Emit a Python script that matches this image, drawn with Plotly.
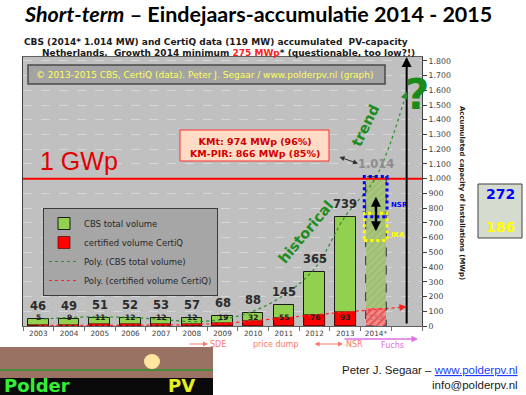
import plotly.graph_objects as go

# ---------------- data ----------------
years = ["2003", "2004", "2005", "2006", "2007", "2008", "2009", "2010",
         "2011", "2012", "2013", "2014*"]
cbs_total = [46, 49, 51, 52, 53, 57, 68, 88, 145, 365, 739, 1014]
certiq = [5, 9, 11, 12, 12, 12, 19, 32, 55, 76, 93, 119]
# polynomial trend lines (2003 .. 2015)
trend_cbs = [45, 58, 62, 58, 45, 30, 45, 100, 210, 390, 745, 1010, 1590]
trend_certiq = [5, 4, 4, 5, 6, 10, 18, 35, 55, 75, 95, 112, 130]
nsr_mw = 272
ika_mw = 186
ika_base = 580
y_ticks = list(range(0, 1801, 100))

FONT = "DejaVu Sans"
L, R, T, B = 23, 422, 57, 326   # plot area in pixels
YMAX = 1826


def px(x):
    return (x - L) / (R - L)


def py(y):
    return (B - y) / (B - T)


def fmt(v):
    return f"{v:,}".replace(",", ".")


n = len(years)
xs = list(range(n))
xs_tr = list(range(len(trend_cbs)))
BW = 0.67

fig = go.Figure()

# green bars
fig.add_trace(go.Bar(
    x=xs[:-1], y=cbs_total[:-1], width=BW, name="CBS total volume",
    marker=dict(color="#92d050", line=dict(color="#1a1a1a", width=1)),
    legendrank=1))
fig.add_trace(go.Bar(
    x=xs[-1:], y=cbs_total[-1:], width=BW, showlegend=False,
    marker=dict(color="#a8c47e", line=dict(color="#a8c47e", width=0),
                pattern=dict(shape="/", fgcolor="#8aae5a", bgcolor="#a8c47e",
                             size=5, solidity=0.25))))
# red bars
fig.add_trace(go.Bar(
    x=xs[:-1], y=certiq[:-1], width=BW, name="certified volume CertiQ",
    marker=dict(color="#ff0000", line=dict(color="#3a0000", width=0.6)),
    legendrank=2))
fig.add_trace(go.Bar(
    x=xs[-1:], y=certiq[-1:], width=BW, showlegend=False,
    marker=dict(color="#f08080", line=dict(width=0),
                pattern=dict(shape="/", fgcolor="#e00000", bgcolor="#f28a8a",
                             size=5, solidity=0.3))))
# trend lines
fig.add_trace(go.Scatter(
    x=xs_tr, y=trend_cbs, mode="lines", name="Poly. (CBS total volume)",
    line=dict(color="#2e8b2e", width=1.2, dash="dot", shape="spline"),
    legendrank=3))
fig.add_trace(go.Scatter(
    x=xs_tr, y=trend_certiq, mode="lines", name="Poly. (certified volume CertiQ)",
    line=dict(color="#ff2020", width=1.2, dash="dot", shape="spline"),
    legendrank=4))

shapes = []
ann = []


def text(x, y, s, size, color, bold=False, xanchor="center", yanchor="middle",
         angle=0, family=FONT, xref="paper", yref="paper", yshift=0):
    ann.append(dict(x=x, y=y, xref=xref, yref=yref, text=s, showarrow=False,
                    xanchor=xanchor, yanchor=yanchor, textangle=angle, yshift=yshift,
                    font=dict(family=family, size=size, color=color,
                              weight="bold" if bold else "normal")))


# value labels above green bars
for i, v in enumerate(cbs_total):
    text(i, v, fmt(v), 11.5, "#2b2b2b" if i < n - 1 else "#8c8c8c", bold=True,
         yanchor="bottom", xref="x", yref="y", yshift=4)

# labels of certiq values
for i, v in enumerate(certiq):
    text(i, 60, str(v), 7.5, "#1f1f1f" if i < n - 1 else "#d86a6a", bold=True,
         xref="x", yref="y")

# 2014 dashed outline
shapes.append(dict(type="rect", xref="x", yref="y", x0=xs[-1] - BW / 2,
                   x1=xs[-1] + BW / 2, y0=0, y1=cbs_total[-1],
                   line=dict(color="#303030", width=1, dash="dash")))

# 1 GWp line
shapes.append(dict(type="line", xref="paper", yref="y", x0=0, x1=1, y0=1000, y1=1000,
                   line=dict(color="#ff0000", width=2)))
text(px(79), py(161), "1 GWp", 25, "#e00000", family="Liberation Sans")

# NSR / IKA dotted boxes
top14 = cbs_total[-1]
shapes.append(dict(type="rect", xref="x", yref="y", x0=xs[-1] - 0.38, x1=xs[-1] + 0.36,
                   y0=top14 - nsr_mw, y1=top14, line=dict(color="#0000ff", width=3, dash="dot")))
shapes.append(dict(type="rect", xref="x", yref="y", x0=xs[-1] - 0.38, x1=xs[-1] + 0.36,
                   y0=ika_base, y1=ika_base + ika_mw, line=dict(color="#ffff00", width=3, dash="dot")))
text(xs[-1] + 0.42, 819, "NSR", 7, "#0000ff", bold=True, xanchor="left", xref="x", yref="y")
text(xs[-1] + 0.42, 620, "IKA", 7, "#ffff00", bold=True, xanchor="left", xref="x", yref="y")
ann.append(dict(x=xs[-1], y=877, xref="x", yref="y", ax=0, ay=36, showarrow=True,
                arrowhead=2, arrowside="end+start", arrowwidth=2.5, arrowsize=0.8,
                arrowcolor="#000000", text=""))

# black vertical arrow at 2015
ann.append(dict(x=xs_tr[-1], y=1.0, xref="x", yref="paper", ax=0, ay=268,
                showarrow=True, arrowhead=2, arrowwidth=2, arrowsize=1,
                arrowcolor="#000000", text="", standoff=0))

# trend arrow heads
for tr, col in ((trend_cbs, "#2e8b2e"), (trend_certiq, "#ff2020")):
    dx = 30.7
    dy = (tr[-1] - tr[-2]) * (B - T) / YMAX
    ln = (dx ** 2 + dy ** 2) ** 0.5
    ann.append(dict(x=xs_tr[-1], y=tr[-1], xref="x", yref="y",
                    ax=-dx / ln * 7, ay=dy / ln * 7, showarrow=True,
                    arrowhead=2, arrowwidth=1.2, arrowsize=1.2,
                    arrowcolor=col, text="", standoff=0))

# curve labels
text(8.72, 636, "historical", 14.5, "#1e8c1e", bold=True, angle=-50, xref="x", yref="y")
text(10.67, 1363, "trend", 14.5, "#1e8c1e", bold=True, angle=-64, xref="x", yref="y")
text(px(417), py(94), "?", 42, "#1a8a1a", bold=True)

# KMt box
shapes.append(dict(type="rect", xref="paper", yref="paper", x0=px(180), x1=px(329),
                   y0=py(161), y1=py(130), fillcolor="#fedcc6",
                   line=dict(color="#ff3030", width=1)))
text(px(254.5), py(147), "KMt: 974 MWp (96%)<br>KM-PIR: 866 MWp (85%)", 9.5,
     "#d00000", bold=True)
ann.append(dict(x=px(358), y=py(163.5), xref="paper", yref="paper",
                ax=-20, ay=-7, showarrow=True, arrowhead=2, arrowside="end+start",
                arrowwidth=1, arrowsize=1, arrowcolor="#303030", text=""))

# copyright box
shapes.append(dict(type="rect", xref="paper", yref="paper", x0=px(28), x1=px(385),
                   y0=py(84), y1=py(65), fillcolor="#a3a3a3",
                   line=dict(color="#4a4a4a", width=1.5)))
text(px(205), py(74.5),
     "© 2013-2015 CBS, CertiQ (data). Peter J. Segaar / www.polderpv.nl (graph)",
     9, "#ffff5a")

# right value box
shapes.append(dict(type="rect", xref="paper", yref="paper", x0=px(478), x1=px(522),
                   y0=py(238), y1=py(184), fillcolor="#d6dbd0",
                   line=dict(color="#404040", width=1)))
text(px(500), py(194.5), str(nsr_mw), 14, "#0000ff", bold=True)
text(px(500), py(227), str(ika_mw), 14, "#ffff00", bold=True)

# axis title
text(px(462), py(193), "Accumulated capacity of installations (MWp)", 6.9,
     "#1a1a1a", bold=True, angle=90)

# titles
text(px(22), py(14),
     "<b><i>Short-term</i> – Eindejaars-accumulatie 2014 - 2015</b>", 21.5,
     "#000000", xanchor="left", family="Lato")
text(px(22), py(42),
     "CBS (2014* 1.014 MW) and CertiQ data (119 MW) accumulated  PV-capacity",
     9, "#1a1a1a", bold=True, xanchor="left")
text(px(40), py(52.5),
     "Netherlands.  Growth 2014 minimum <span style='color:#ff2020'>275 MWp</span>* (questionable, too low?!)",
     9, "#1a1a1a", bold=True, xanchor="left")

# bottom policy annotations
sal = "#f57a6a"
ann.append(dict(x=px(208), y=py(344), xref="paper", yref="paper", ax=-20, ay=0,
                showarrow=True, arrowhead=2, arrowwidth=1, arrowcolor=sal, text=""))
text(px(208), py(344.5), "SDE", 8, sal, xanchor="left")
text(px(275), py(344.5), "price dump", 8, sal)
ann.append(dict(x=px(343), y=py(344), xref="paper", yref="paper", ax=-30, ay=0,
                showarrow=True, arrowhead=2, arrowside="end+start", arrowwidth=1,
                arrowcolor=sal, text=""))
text(px(344), py(344.5), "NSR", 8, sal, xanchor="left")
ann.append(dict(x=px(418), y=py(339), xref="paper", yref="paper", ax=-75, ay=0,
                showarrow=True, arrowhead=2, arrowwidth=1.3, arrowcolor="#e070e0", text=""))
text(px(392), py(345.5), "Fuchs", 8, "#e070e0")

# logo approximation
shapes.append(dict(type="rect", xref="paper", yref="paper", x0=px(0), x1=px(213),
                   y0=py(395), y1=py(347), fillcolor="#9a7264", line=dict(width=0)))
shapes.append(dict(type="rect", xref="paper", yref="paper", x0=px(0), x1=px(213),
                   y0=py(395), y1=py(378), fillcolor="#0a0a0a", line=dict(width=0)))
shapes.append(dict(type="circle", xref="paper", yref="paper", x0=px(144), x1=px(160),
                   y0=py(369), y1=py(354), fillcolor="#ffe6a0", line=dict(width=0)))
shapes.append(dict(type="line", xref="paper", yref="paper", x0=px(0), x1=px(213),
                   y0=py(370), y1=py(370), line=dict(color="#2a9a2a", width=1.5)))
text(px(2), py(385.5), "Polder", 18, "#33ee33", bold=True, xanchor="left")
text(px(166), py(385.5), "PV", 18, "#e6f020", bold=True, xanchor="left")

# footer
text(px(520), py(370),
     "Peter J. Segaar – <span style='color:#1a3cff'><u>www.polderpv.nl</u></span>",
     11.5, "#1a1a1a", xanchor="right", family="Liberation Sans")
text(px(520), py(385), "info@polderpv.nl", 11.5, "#1a1a1a", xanchor="right",
     family="Liberation Sans")

fig.update_layout(
    width=526, height=395,
    margin=dict(l=L, r=526 - R, t=T, b=395 - B, pad=0),
    paper_bgcolor="#ffffff", plot_bgcolor="#c0c0c0",
    barmode="overlay", bargap=0,
    separators=",.",
    font=dict(family=FONT, size=8, color="#333333"),
    showlegend=True,
    legend=dict(x=px(43), y=py(208), xanchor="left", yanchor="top",
                bgcolor="#a6a6a6", bordercolor="#3a3a3a", borderwidth=1,
                font=dict(family=FONT, size=8.5, color="#262626"),
                tracegroupgap=4, itemwidth=30),
    xaxis=dict(range=[-0.5, n + 0.5], tickvals=xs, ticktext=years,
               tickfont=dict(family=FONT, size=7.3, color="#404040"),
               ticks="", showgrid=False, zeroline=False,
               showline=True, linecolor="#606060", linewidth=1, mirror=True,
               minor=dict(tick0=-0.5, dtick=1, ticks="outside", ticklen=4,
                          tickcolor="#707070")),
    yaxis=dict(range=[0, YMAX], side="right", tickvals=y_ticks,
               tickformat=",d", ticks="outside", ticklen=4, tickcolor="#404040",
               tickfont=dict(family=FONT, size=7.8, color="#404040"),
               showgrid=True, gridcolor="#d6d6d6", griddash="dash", gridwidth=1,
               zeroline=False, showline=True, linecolor="#404040", linewidth=1,
               mirror=True),
    shapes=shapes, annotations=ann,
)

fig.write_html("out.html", config={"displayModeBar": False},
               post_script="document.body.style.margin='0';document.body.style.padding='0';")
